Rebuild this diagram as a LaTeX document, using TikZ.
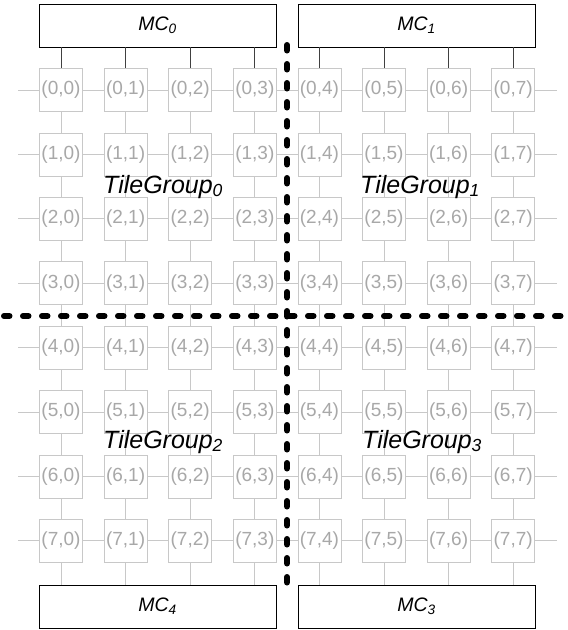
\documentclass[tikz,border=0pt]{standalone}
\usepackage{fontspec}
\setmainfont{Liberation Sans}
\usepackage{tikz}
\usetikzlibrary{positioning,calc}

\definecolor{tilegray}{HTML}{C8C8C8}
\definecolor{textgray}{HTML}{A8A8A8}
\definecolor{portgray}{HTML}{404040}

\begin{document}
\begin{tikzpicture}[
        x=1pt, y=-1pt,
        tile/.style={rectangle, draw=tilegray, fill=white, line width=0.8pt,
            minimum size=43pt, inner sep=0pt, text=textgray,
            font=\fontsize{19}{19}\selectfont},
        mc/.style={rectangle, draw=black, fill=white, line width=0.9pt,
            minimum width=237pt, minimum height=43pt, inner sep=0pt,
            font=\fontsize{19.5}{19.5}\selectfont\itshape},
        link/.style={tilegray, line width=0.8pt},
        port/.style={portgray, line width=0.9pt},
        group/.style={anchor=base west, inner sep=0pt,
            font=\fontsize{25}{25}\selectfont\itshape},
        split/.style={black, line width=6pt, line cap=round,
            dash pattern=on 5.5pt off 13.5pt}
    ]
    \useasboundingbox (0,0) rectangle (568,630);

    % Tiles
    \foreach \r in {0,...,7} {
        \foreach \c in {0,...,7} {
            \node[tile] (t\r\c) at (61+64.6*\c, 90+64.4*\r) {(\r,\c)};
        }
    }

    % Memory controllers
    \node[mc] (MC0) at (157.5, 25.5) {MC\textsubscript{0}};
    \node[mc] (MC1) at (416.5, 25.5) {MC\textsubscript{1}};
    \node[mc] (MC4) at (157.5, 606.5) {MC\textsubscript{4}};
    \node[mc] (MC3) at (416.5, 606.5) {MC\textsubscript{3}};

    % Mesh links
    \foreach \r in {0,...,7} {
        \foreach \c [evaluate=\c as \n using int(\c+1)] in {0,...,6} {
            \draw[link] (t\r\c.east) -- (t\r\n.west);
        }
        \coordinate (lstub\r) at ($(t\r0.west)+(-21,0)$);
        \coordinate (rstub\r) at ($(t\r7.east)+(22,0)$);
        \draw[link] (lstub\r) -- (t\r0.west);
        \draw[link] (t\r7.east) -- (rstub\r);
    }
    \foreach \c in {0,...,7} {
        \foreach \r [evaluate=\r as \n using int(\r+1)] in {0,...,6} {
            \draw[link] (t\r\c.south) -- (t\n\c.north);
        }
    }

    % Controller ports
    \foreach \c in {0,...,3} {
        \draw[port] (MC0.south -| t0\c) -- (t0\c.north);
        \draw[link] (t7\c.south) -- (MC4.north -| t7\c);
    }
    \foreach \c in {4,...,7} {
        \draw[port] (MC1.south -| t0\c) -- (t0\c.north);
        \draw[link] (t7\c.south) -- (MC3.north -| t7\c);
    }

    % Tile groups
    \node[group] (G0) at (103, 193) {TileGroup\textsubscript{0}};
    \node[group] (G1) at (360, 193) {TileGroup\textsubscript{1}};
    \node[group] (G2) at (103, 448) {TileGroup\textsubscript{2}};
    \node[group] (G3) at (362, 448) {TileGroup\textsubscript{3}};

    % Partition lines
    \coordinate (vtop) at (287, 45);
    \coordinate (vbot) at (287, 589);
    \coordinate (hleft) at (4, 316);
    \coordinate (hright) at (568, 316);
    \draw[split] (vtop) -- (vbot);
    \draw[split] (hleft) -- (hright);
\end{tikzpicture}
\end{document}
